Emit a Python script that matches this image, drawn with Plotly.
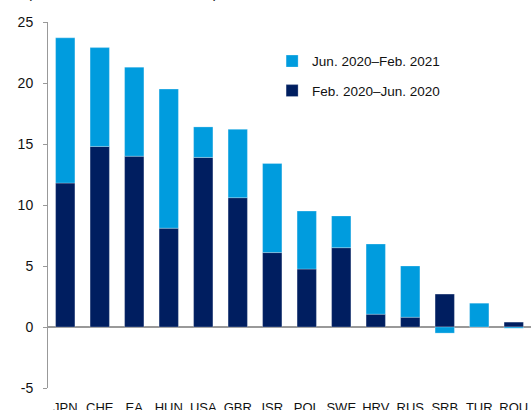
import plotly.graph_objects as go

categories = ["JPN", "CHE", "EA", "HUN", "USA", "GBR", "ISR", "POL", "SWE", "HRV", "RUS", "SRB", "TUR", "ROU"]
feb_jun_2020 = [11.8, 14.8, 14.0, 8.1, 13.9, 10.6, 6.1, 4.75, 6.5, 1.05, 0.8, 2.7, 0.0, 0.4]
jun_2020_feb_2021 = [11.9, 8.1, 7.3, 11.4, 2.5, 5.6, 7.3, 4.75, 2.6, 5.75, 4.2, -0.5, 1.95, -0.1]
y_ticks = [-5, 0, 5, 10, 15, 20, 25]
y_tick_text = ["-5", "0", "5", "10", "15", "20", "25"]

DARK = "#001E60"
LIGHT = "#009CDE"
FONT = "Liberation Sans, Arial, sans-serif"

fig = go.Figure()
fig.add_trace(go.Bar(x=categories, y=feb_jun_2020, name="Feb. 2020\u2013Jun. 2020",
                     marker=dict(color=DARK, line=dict(color="rgba(255,255,255,0.5)", width=0.5)),
                     legendgroup="b", legendrank=2))
fig.add_trace(go.Bar(x=categories, y=jun_2020_feb_2021, name="Jun. 2020\u2013Feb. 2021",
                     marker=dict(color=LIGHT, line=dict(color="rgba(255,255,255,0.5)", width=0.5)),
                     legendgroup="a", legendrank=1))

fig.update_layout(
    width=531, height=410,
    margin=dict(l=48, r=0, t=22, b=22),
    barmode="relative", bargap=0.44,
    plot_bgcolor="white", paper_bgcolor="white",
    font=dict(family=FONT, color="#111111", size=13),
    showlegend=True,
    legend=dict(x=0.464, y=0.935, xanchor="left", yanchor="top", traceorder="grouped",
                tracegroupgap=9, font=dict(size=13.5), bgcolor="rgba(0,0,0,0)"),
    annotations=[dict(text="(in % of loans to households)", xref="paper", yref="paper",
                      x=-0.047, y=1.0, xanchor="left", yanchor="bottom", yshift=19, showarrow=False,
                      font=dict(size=14.8, color="#111111"))],
)
fig.update_yaxes(range=[-5, 25], tickvals=y_ticks, ticktext=y_tick_text, showgrid=False, showline=True,
                 linecolor="#999999", linewidth=1, ticks="outside", ticklen=4, tickcolor="#999999",
                 zeroline=True, zerolinecolor="#999999", zerolinewidth=1.5,
                 tickfont=dict(size=14), ticklabelstandoff=7, automargin=False)
fig.update_xaxes(showgrid=False, showline=False, ticks="outside", ticklen=7,
                 tickcolor="rgba(0,0,0,0)", tickfont=dict(size=13), automargin=False)

fig.write_html("out.html", config={"displayModeBar": False},
               post_script="document.body.style.margin='0';document.body.style.overflow='hidden';")
